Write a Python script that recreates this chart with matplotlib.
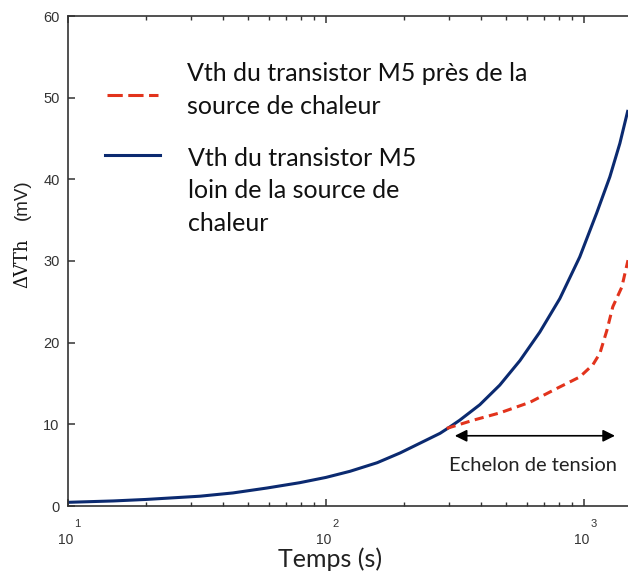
import numpy as np
import matplotlib
matplotlib.use('Agg')
import matplotlib.pyplot as plt
from matplotlib.lines import Line2D
import matplotlib.transforms as mtransforms

# blue curve: Vth far from the heat source
t_far = [10, 15, 20, 32.5, 43.6, 59, 79, 100, 124, 158, 194, 246, 277, 303, 330,
         395, 472, 565, 675, 807, 964, 1122, 1261, 1379, 1483]
v_far = [0.45, 0.62, 0.8, 1.2, 1.6, 2.2, 2.85, 3.5, 4.25, 5.3, 6.5, 8.1, 8.9, 9.7, 10.5,
         12.4, 14.8, 17.8, 21.3, 25.4, 30.5, 35.9, 40.3, 44.4, 48.5]

# red dashed curve: Vth near the heat source
t_near = [294, 372, 472, 618, 786, 964, 1084, 1154, 1228, 1295, 1403, 1483]
v_near = [9.5, 10.5, 11.4, 12.7, 14.4, 15.8, 17.3, 18.7, 21.5, 24.4, 26.8, 30.1]

step_range = (316, 1320)
step_y = 8.6
step_label = 'Echelon de tension'
xtick_exp = [1, 2, 3]
yticks = [0, 10, 20, 30, 40, 50, 60]

label_near = 'Vth du transistor M5 près de la\nsource de chaleur'
label_far = 'Vth du transistor M5\nloin de la source de\nchaleur'

blue = '#0b2a70'
red = '#e2331c'
sans = 'Lato'
dash = (0, (3, 1.8))

fig = plt.figure(figsize=(6.28, 5.72), dpi=100)
ax = fig.add_axes([68/628, 66/572, 1 - 68/628, (506-16)/572])

ax.plot(t_far, v_far, color=blue, lw=2.2, solid_capstyle='butt')
ax.plot(t_near, v_near, color=red, lw=2.2, ls=dash)

ax.set_xscale('log')
ax.set_xlim(10, 1483)
ax.set_ylim(0, 60)
ax.set_yticks(yticks)
ax.set_yticklabels([str(v) for v in yticks], fontfamily='Liberation Sans',
                   fontsize=10.5, color='#333333')
ax.spines['right'].set_visible(False)
for s in ['left', 'bottom', 'top']:
    ax.spines[s].set_linewidth(1.2)
    ax.spines[s].set_color('#333333')
ax.tick_params(which='both', direction='in', top=True, right=False, color='#333333')
ax.tick_params(which='major', length=5, width=1.1, pad=6)
ax.tick_params(which='minor', length=3, width=1.0)
ax.xaxis.set_major_formatter(matplotlib.ticker.NullFormatter())
ax.xaxis.set_minor_formatter(matplotlib.ticker.NullFormatter())

# MATLAB-style 10^n tick labels
trans = mtransforms.blended_transform_factory(ax.transData, ax.transAxes)
for e in xtick_exp:
    ax.text(10**e * 0.98, -0.069, '10', transform=trans, ha='center', va='center',
            fontfamily='Liberation Sans', fontsize=10, color='#333333')
    ax.text(10**e * 1.09, -0.037, str(e), transform=trans, ha='center', va='center',
            fontfamily='Liberation Sans', fontsize=8, color='#333333')

# step annotation
ax.annotate('', xy=(step_range[1], step_y), xytext=(step_range[0], step_y),
            arrowprops=dict(arrowstyle='<|-|>', color='black', lw=1.2,
                            mutation_scale=18, shrinkA=0, shrinkB=0))
ax.text(np.sqrt(step_range[0] * step_range[1]) * 0.98, 5.0, step_label,
        ha='center', va='center', fontfamily=sans, fontsize=14.5, color='#222222')

# legend drawn by hand
def fx(px):
    return (px - 68) / (628 - 68)
def fy(py):
    return (506 - py) / (506 - 16)
ax.add_line(Line2D([fx(107), fx(158)], [fy(95), fy(95)], transform=ax.transAxes,
                   color=red, lw=2.2, ls=(0, (5, 1.8))))
ax.add_line(Line2D([fx(105), fx(160)], [fy(155), fy(155)], transform=ax.transAxes,
                   color=blue, lw=2.2))
ax.text(fx(187), fy(90), label_near, transform=ax.transAxes, ha='left', va='center',
        fontfamily=sans, fontsize=18, linespacing=1.48, color='#111111')
ax.text(fx(188), fy(191), label_far, transform=ax.transAxes, ha='left', va='center',
        fontfamily=sans, fontsize=18, linespacing=1.48, color='#111111')

# axis labels
fig.text(330/628, 1 - 559/572, 'Temps (s)', ha='center', va='center',
         fontfamily=sans, fontsize=18, color='#222222')
fig.text(22/628, 1 - 263/572, 'ΔVTh', ha='center', va='center', rotation=90,
         fontfamily='DejaVu Serif', fontsize=13, color='#111111')
fig.text(22/628, 1 - 200/572, '(mV)', ha='center', va='center', rotation=90,
         fontfamily='Liberation Sans', fontsize=13.5, color='#222222')

fig.savefig('out.png', dpi=100, facecolor='white')
